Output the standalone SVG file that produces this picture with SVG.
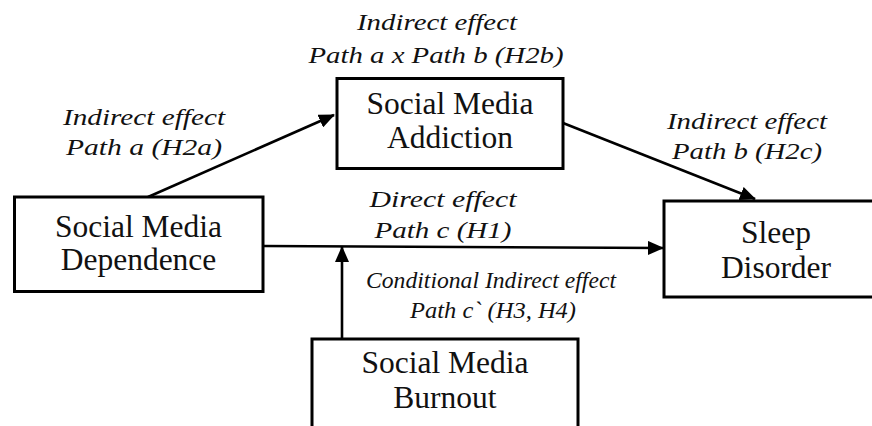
<svg xmlns="http://www.w3.org/2000/svg" width="872" height="426" viewBox="0 0 872 426">
<defs>
<style>
.box{fill:#fff;stroke:#000;stroke-width:3}
.nt{font-size:31.5px;fill:#111;text-anchor:middle}
.lb{font-size:24px;font-style:italic;fill:#111;text-anchor:middle}
.ln{stroke:#000;stroke-width:2.6;fill:none}
</style>
<marker id="ah" markerWidth="16" markerHeight="14" refX="15" refY="7" orient="auto" markerUnits="userSpaceOnUse">
<path d="M0,0 L16,7 L0,14 Z" fill="#000"/>
</marker>
</defs>
<rect width="872" height="426" fill="#fff"/>
<g id="connectors">
<line class="ln" x1="148" y1="197" x2="334" y2="115" marker-end="url(#ah)"/>
<line class="ln" x1="563" y1="123" x2="755" y2="199" marker-end="url(#ah)"/>
<line class="ln" x1="263" y1="246" x2="663" y2="248" marker-end="url(#ah)"/>
<line class="ln" x1="342" y1="339" x2="342" y2="247" marker-end="url(#ah)"/>
</g>
<g font-family="'Liberation Serif', 'Times New Roman', Tinos, 'Noto Serif', 'DejaVu Serif', FreeSerif, 'Nimbus Roman', 'Nimbus Roman No9 L', Georgia, serif">
<g id="dependence">
<rect class="box" x="14.5" y="197" width="248.5" height="94.5"/>
<text class="nt" x="138.5" y="237">Social Media</text>
<text class="nt" x="138.5" y="270">Dependence</text>
</g>
<g id="addiction">
<rect class="box" x="337" y="78.5" width="226" height="90"/>
<text class="nt" x="450" y="114">Social Media</text>
<text class="nt" x="450" y="148">Addiction</text>
</g>
<g id="sleep">
<rect class="box" x="664" y="201" width="230" height="96"/>
<text class="nt" x="776" y="243">Sleep</text>
<text class="nt" x="776" y="278">Disorder</text>
</g>
<g id="burnout">
<rect class="box" x="312" y="339" width="266" height="100"/>
<text class="nt" x="445" y="373">Social Media</text>
<text class="nt" x="445" y="408">Burnout</text>
</g>
<g id="labels">
<text class="lb" x="437" y="30" textLength="160" lengthAdjust="spacingAndGlyphs">Indirect effect</text>
<text class="lb" x="436" y="63" textLength="255" lengthAdjust="spacingAndGlyphs">Path a x Path b (H2b)</text>
<text class="lb" x="144" y="125" textLength="162" lengthAdjust="spacingAndGlyphs">Indirect effect</text>
<text class="lb" x="144" y="155" textLength="156" lengthAdjust="spacingAndGlyphs">Path a (H2a)</text>
<text class="lb" x="747" y="129" textLength="160" lengthAdjust="spacingAndGlyphs">Indirect effect</text>
<text class="lb" x="747" y="159" textLength="150" lengthAdjust="spacingAndGlyphs">Path b (H2c)</text>
<text class="lb" x="443" y="207" textLength="147" lengthAdjust="spacingAndGlyphs">Direct effect</text>
<text class="lb" x="443" y="238" textLength="137" lengthAdjust="spacingAndGlyphs">Path c (H1)</text>
<text class="lb" x="491" y="288" textLength="250" lengthAdjust="spacingAndGlyphs">Conditional Indirect effect</text>
<text class="lb" x="493" y="318" textLength="166" lengthAdjust="spacingAndGlyphs">Path c` (H3, H4)</text>
</g>
</g>
</svg>
